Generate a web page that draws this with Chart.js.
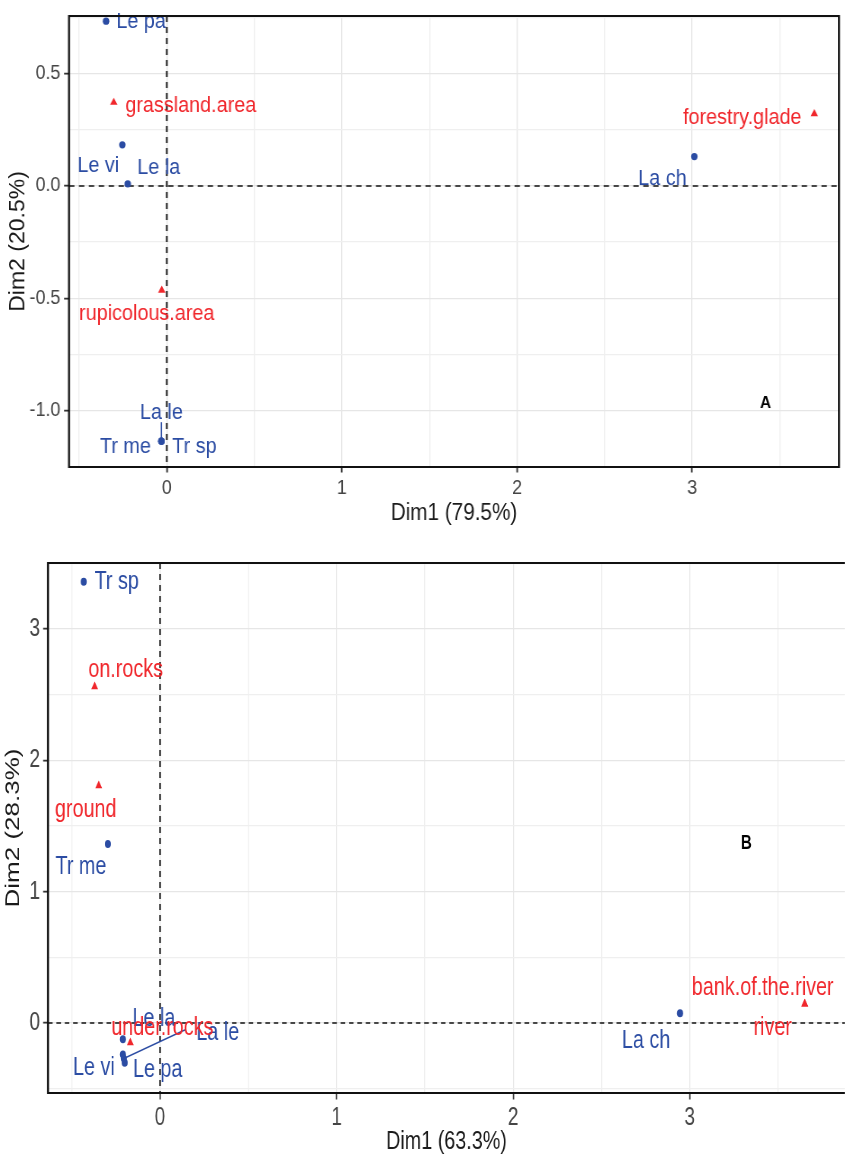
<!DOCTYPE html>
<html lang="en">
<head>
<meta charset="UTF-8" />
<title>CA biplots</title>
<script src="https://cdn.jsdelivr.net/npm/chart.js"></script>
<style>
  body { margin: 0; background: #fff; width: 849px; height: 1159px; overflow: hidden; position: relative; }
  canvas { position: absolute; left: 0; transform-origin: 0 0; }
  /* the original figure is squeezed sideways, so each panel is drawn wide and scaled */
  #chartA { top: 0; transform: scaleX(0.9); }
  #chartB { top: 540px; transform: scaleX(0.76); }
</style>
</head>
<body>
<canvas id="chartA" width="943" height="540"></canvas>
<canvas id="chartB" width="1117" height="619"></canvas>
<script>
// ---- panel A : habitat ----
const speciesA = ['Le pa', 'Le vi', 'Le la', 'La ch', 'La le', 'Tr me', 'Tr sp'];
const speciesA_dim1 = [-0.347, -0.254, -0.223, 3.013, -0.031, -0.031, -0.031];
const speciesA_dim2 = [0.734, 0.183, 0.009, 0.131, -1.137, -1.137, -1.137];
const habitatA = ['grassland.area', 'rupicolous.area', 'forestry.glade'];
const habitatA_dim1 = [-0.303, -0.029, 3.698];
const habitatA_dim2 = [0.372, -0.465, 0.321];
const xTicksA = [0, 1, 2, 3];
const xTickLabelsA = ['0', '1', '2', '3'];
const yTicksA = [-1, -0.5, 0, 0.5];
const yTickLabelsA = ['-1.0', '-0.5', '0.0', '0.5'];

// ---- panel B : microhabitat ----
const speciesB = ['Tr sp', 'Tr me', 'La ch', 'Le la', 'Le vi', 'La le', 'Le pa'];
const speciesB_dim1 = [-0.432, -0.295, 2.945, -0.21, -0.21, -0.205, -0.2];
const speciesB_dim2 = [3.36, 1.363, 0.074, -0.124, -0.24, -0.27, -0.302];
const habitatB = ['on.rocks', 'ground', 'under.rocks', 'bank.of.the.river', 'river'];
const habitatB_dim1 = [-0.37, -0.347, -0.168, 3.651, 3.651];
const habitatB_dim2 = [2.561, 1.807, -0.15, 0.145, 0.145];
const xTicksB = [0, 1, 2, 3];
const xTickLabelsB = ['0', '1', '2', '3'];
const yTicksB = [0, 1, 2, 3];
const yTickLabelsB = ['0', '1', '2', '3'];

const BLUE = '#2b4ca3';
const RED = '#f0272c';
const FONT = "'Liberation Sans', Arial, sans-serif";

// label placement (screen px, relative to the point) -- mimics ggrepel output
const labelPosA = {
  'Le pa': [35, 1], 'Le vi': [-24, 21], 'Le la': [31, -16], 'La ch': [-32, 22],
  'La le': [0, -28, 0, -19], 'Tr me': [-36, 6], 'Tr sp': [33, 6],
  'grassland.area': [77, 4], 'rupicolous.area': [-15, 24], 'forestry.glade': [-72, 4]
};
const labelPosB = {
  'Tr sp': [33, 0], 'Tr me': [-27, 23], 'La ch': [-34, 28], 'Le la': [31, -20],
  'Le vi': [-29, 13], 'La le': [94, -26, 62, -29], 'Le pa': [33, 7],
  'on.rocks': [31, -17], 'ground': [-13, 24], 'under.rocks': [32, -15],
  'bank.of.the.river': [-42, -16], 'river': [-32, 24]
};

function toPoints(xs, ys) {
  return xs.map((x, i) => ({ x: x, y: ys[i] }));
}

function makePanel(id, p) {
  const f = p.squeeze;
  const frame = {
    id: 'frame',
    beforeDatasetsDraw(chart) {
      const { ctx, chartArea: a, scales } = chart;
      const x0 = scales.x.getPixelForValue(0);
      const y0 = scales.y.getPixelForValue(0);
      ctx.save();
      ctx.strokeStyle = '#111';
      ctx.setLineDash([6, 5]);
      ctx.lineWidth = 1.6;
      ctx.beginPath();
      ctx.moveTo(a.left, y0); ctx.lineTo(a.right, y0);
      ctx.stroke();
      ctx.lineWidth = 1.6 / f;
      ctx.beginPath();
      ctx.moveTo(x0, a.top); ctx.lineTo(x0, a.bottom);
      ctx.stroke();
      ctx.restore();
    },
    afterDatasetsDraw(chart) {
      const { ctx, chartArea: a, scales } = chart;
      ctx.save();
      ctx.textAlign = 'center';
      ctx.textBaseline = 'middle';
      ctx.font = p.labelSize + 'px ' + FONT;
      chart.data.datasets.forEach((ds, di) => {
        const meta = chart.getDatasetMeta(di);
        ds.names.forEach((name, i) => {
          const pt = meta.data[i];
          const pos = p.labels[name];
          if (pos.length > 2) {
            ctx.strokeStyle = ds.textColor;
            ctx.lineWidth = 1.5;
            ctx.beginPath();
            ctx.moveTo(pt.x, pt.y);
            ctx.lineTo(pt.x + pos[2] / f, pt.y + pos[3]);
            ctx.stroke();
          }
          ctx.fillStyle = ds.textColor;
          ctx.fillText(name, pt.x + pos[0] / f, pt.y + pos[1]);
        });
      });
      // panel letter
      ctx.fillStyle = '#000';
      ctx.font = 'bold ' + p.tagSize + 'px ' + FONT;
      ctx.fillText(p.tag, scales.x.getPixelForValue(p.tagAt[0]), scales.y.getPixelForValue(p.tagAt[1]));
      // panel border (vertical strokes widened to survive the squeeze)
      ctx.strokeStyle = '#111';
      ctx.lineWidth = 2;
      ctx.beginPath();
      ctx.moveTo(a.left, a.top); ctx.lineTo(a.right, a.top);
      ctx.moveTo(a.left, a.bottom); ctx.lineTo(a.right, a.bottom);
      ctx.stroke();
      ctx.lineWidth = 2 / f;
      ctx.beginPath();
      ctx.moveTo(a.left, a.top - 1); ctx.lineTo(a.left, a.bottom + 1);
      if (p.closed) { ctx.moveTo(a.right, a.top - 1); ctx.lineTo(a.right, a.bottom + 1); }
      ctx.stroke();
      ctx.restore();
    }
  };

  const axis = (vals, labels, grid, range, title, fit) => ({
    type: 'linear',
    min: range[0],
    max: range[1],
    afterBuildTicks: s => { s.ticks = grid.map(v => ({ value: v })); },
    afterFit: fit,
    border: { display: false },
    grid: {
      color: c => vals.includes(c.tick && c.tick.value) ? '#e6e6e6' : '#efefef',
      lineWidth: 1.3,
      tickLength: p.tickLen,
      tickColor: c => vals.includes(c.tick && c.tick.value) ? '#333' : 'rgba(0,0,0,0)',
      tickWidth: 1.8
    },
    ticks: {
      autoSkip: false,
      maxRotation: 0,
      padding: p.tickPad,
      color: '#454545',
      font: { family: FONT, size: p.tickSize },
      callback: v => { const k = vals.indexOf(v); return k < 0 ? '' : labels[k]; }
    },
    title: {
      display: true,
      text: title,
      color: '#1a1a1a',
      padding: 0,
      font: { family: FONT, size: p.titleSize }
    }
  });

  return new Chart(document.getElementById(id), {
    type: 'scatter',
    data: {
      datasets: [
        {
          names: p.species, textColor: BLUE,
          data: toPoints(p.sx, p.sy),
          pointStyle: 'circle', pointRadius: p.dotR,
          backgroundColor: BLUE, borderColor: BLUE, borderWidth: 0
        },
        {
          names: p.habitats, textColor: RED,
          data: toPoints(p.hx, p.hy),
          pointStyle: 'triangle', pointRadius: p.triR,
          backgroundColor: RED, borderColor: RED, borderWidth: 0
        }
      ]
    },
    options: {
      responsive: false,
      animation: false,
      devicePixelRatio: 1,
      layout: { padding: p.pad },
      plugins: { legend: { display: false }, tooltip: { enabled: false } },
      scales: {
        x: axis(p.xTicks, p.xLabels, p.xGrid, p.xRange, p.xTitle, s => { s.height = p.xAxisH; }),
        y: axis(p.yTicks, p.yLabels, p.yGrid, p.yRange, p.yTitle, s => { s.width = p.yAxisW; })
      }
    },
    plugins: [frame]
  });
}

makePanel('chartA', {
  squeeze: 0.9,
  species: speciesA, sx: speciesA_dim1, sy: speciesA_dim2,
  habitats: habitatA, hx: habitatA_dim1, hy: habitatA_dim2,
  xTicks: xTicksA, xLabels: xTickLabelsA, xGrid: [-0.5, 0, 0.5, 1, 1.5, 2, 2.5, 3, 3.5],
  yTicks: yTicksA, yLabels: yTickLabelsA, yGrid: [-1, -0.75, -0.5, -0.25, 0, 0.25, 0.5, 0.75],
  xRange: [-0.5585, 3.839], yRange: [-1.252, 0.757],
  xTitle: 'Dim1 (79.5%)', yTitle: 'Dim2 (20.5%)',
  pad: { left: 7, right: 10.8, top: 8, bottom: 12.2 },
  xAxisH: 60.8, yAxisW: 69.7,
  tickLen: 5.5, tickPad: 4, tickSize: 20, titleSize: 23,
  labelSize: 22, dotR: 3.6, triR: 4.8,
  labels: labelPosA, tag: 'A', tagAt: [3.42, -0.97], tagSize: 17, closed: true
});

makePanel('chartB', {
  squeeze: 0.76,
  species: speciesB, sx: speciesB_dim1, sy: speciesB_dim2,
  habitats: habitatB, hx: habitatB_dim1, hy: habitatB_dim2,
  xTicks: xTicksB, xLabels: xTickLabelsB, xGrid: [-0.5, 0, 0.5, 1, 1.5, 2, 2.5, 3, 3.5],
  yTicks: yTicksB, yLabels: yTickLabelsB, yGrid: [-0.5, 0, 0.5, 1, 1.5, 2, 2.5, 3, 3.5],
  xRange: [-0.634, 3.879], yRange: [-0.533, 3.503],
  xTitle: 'Dim1 (63.3%)', yTitle: 'Dim2 (28.3%)',
  pad: { left: 2.6, right: 0, top: 23, bottom: 2 },
  xAxisH: 64, yAxisW: 60.6,
  tickLen: 6.5, tickPad: 4, tickSize: 25, titleSize: 26,
  labelSize: 26, dotR: 4, triR: 5.2,
  labels: labelPosB, tag: 'B', tagAt: [3.32, 1.37], tagSize: 20, closed: false
});
</script>
</body>
</html>
